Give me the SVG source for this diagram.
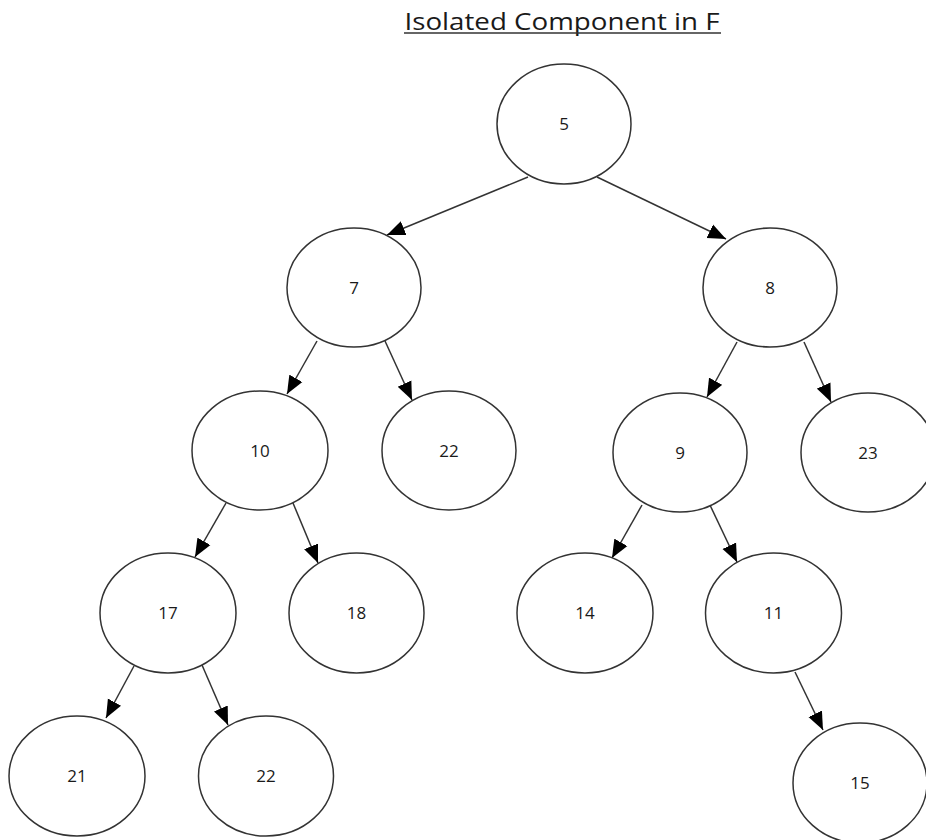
<svg xmlns="http://www.w3.org/2000/svg" width="926" height="840" viewBox="0 0 926 840">
<defs>
<style>
.n ellipse{fill:#fff;stroke:#333;stroke-width:1.5}
.n text{font-family:"Open Sans","Liberation Sans",sans-serif;font-size:17px;fill:#1a1a1a;text-anchor:middle}
.e line{stroke:#333;stroke-width:1.5;marker-end:url(#ah)}
.t{font-family:"Open Sans","Liberation Sans",sans-serif;font-size:24px;fill:#1a1a1a;text-anchor:middle}
</style>
<marker id="ah" markerUnits="userSpaceOnUse" markerWidth="19" markerHeight="16" refX="18" refY="8" orient="auto">
<path d="M0,0.5 L18,8 L0,15.5 z" fill="#000"/>
</marker>
</defs>
<rect width="926" height="840" fill="#fff"/>
<g id="title">
<text class="t" x="562" y="30" textLength="315" lengthAdjust="spacingAndGlyphs">Isolated Component in F</text>
<line x1="404" y1="33" x2="721" y2="33" stroke="#333" stroke-width="1.5"/>
</g>
<g class="e" id="connectors">
<line x1="528" y1="177" x2="387" y2="235"/>
<line x1="597" y1="177" x2="726" y2="239"/>
<line x1="317" y1="341" x2="287" y2="394"/>
<line x1="385" y1="341" x2="412" y2="400"/>
<line x1="737" y1="342" x2="707" y2="397"/>
<line x1="804" y1="342" x2="831" y2="402"/>
<line x1="226" y1="503" x2="195" y2="557"/>
<line x1="293" y1="503" x2="318" y2="563"/>
<line x1="642" y1="505" x2="612" y2="558"/>
<line x1="709" y1="503" x2="737" y2="562"/>
<line x1="134" y1="666" x2="106" y2="718"/>
<line x1="202" y1="665" x2="228" y2="725"/>
<line x1="795" y1="672" x2="823" y2="730"/>
</g>
<g class="n" id="n5"><ellipse cx="564" cy="124" rx="67" ry="60"/><text x="564" y="130">5</text></g>
<g class="n" id="n7"><ellipse cx="354" cy="287.5" rx="67" ry="59.5"/><text x="354" y="293.5">7</text></g>
<g class="n" id="n8"><ellipse cx="770" cy="287.5" rx="67" ry="59.5"/><text x="770" y="293.5">8</text></g>
<g class="n" id="n10"><ellipse cx="260" cy="450.5" rx="68" ry="59.5"/><text x="260" y="456.5">10</text></g>
<g class="n" id="n22a"><ellipse cx="449" cy="450.5" rx="67" ry="59.5"/><text x="449" y="456.5">22</text></g>
<g class="n" id="n9"><ellipse cx="680" cy="452.5" rx="67" ry="59.5"/><text x="680" y="458.5">9</text></g>
<g class="n" id="n23"><ellipse cx="868" cy="452.5" rx="67" ry="59.5"/><text x="868" y="458.5">23</text></g>
<g class="n" id="n17"><ellipse cx="168" cy="613" rx="68" ry="60"/><text x="168" y="619">17</text></g>
<g class="n" id="n18"><ellipse cx="356.5" cy="613" rx="67.5" ry="60"/><text x="356.5" y="619">18</text></g>
<g class="n" id="n14"><ellipse cx="585" cy="613" rx="68" ry="60"/><text x="585" y="619">14</text></g>
<g class="n" id="n11"><ellipse cx="773.5" cy="613" rx="68" ry="60"/><text x="773.5" y="619">11</text></g>
<g class="n" id="n21"><ellipse cx="77" cy="776" rx="68" ry="60"/><text x="77" y="782">21</text></g>
<g class="n" id="n22b"><ellipse cx="266" cy="776" rx="67.5" ry="60"/><text x="266" y="782">22</text></g>
<g class="n" id="n15"><ellipse cx="860" cy="783" rx="67" ry="60"/><text x="860" y="789">15</text></g>
</svg>
